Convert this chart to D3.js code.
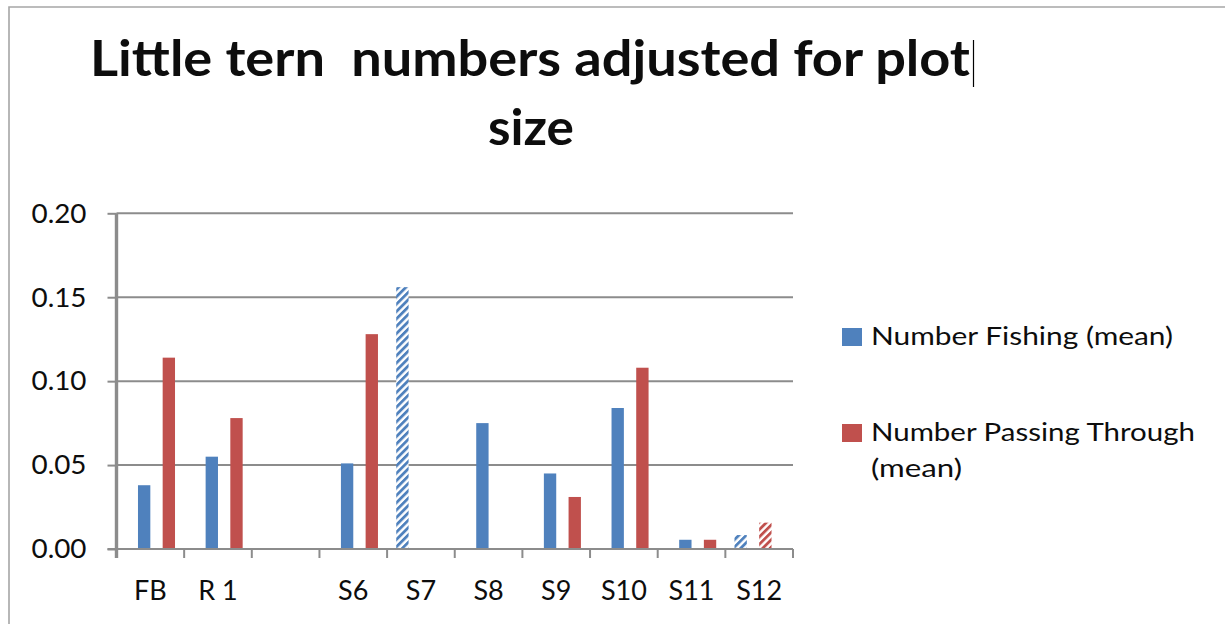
<!DOCTYPE html>
<html>
<head>
<meta charset="utf-8">
<script src="https://cdn.jsdelivr.net/npm/d3@7"></script>
<style>
  html, body { margin: 0; padding: 0; background: #fff; }
  svg { display: block; }
  text { font-family: Lato, "Noto Sans", sans-serif; fill: #0d0d0d; }
</style>
</head>
<body>
<svg id="chart" width="1225" height="624"></svg>
<script>
// Sites along the x axis (one unnamed gap between R 1 and S6)
const categories = ["FB", "R 1", "", "S6", "S7", "S8", "S9", "S10", "S11", "S12"];

// Mean little tern numbers per site, adjusted for plot size
const fishing        = [0.038, 0.055, null, 0.051, null, 0.075, 0.045, 0.084, 0.0055, null];
const passing        = [0.114, 0.078, null, 0.128, null, null, 0.031, 0.108, 0.0055, null];
const fishingHatched = [null, null, null, null, 0.156, null, null, null, null, 0.0083];
const passingHatched = [null, null, null, null, null, null, null, null, null, 0.0157];

const yTicks = [0, 0.05, 0.10, 0.15, 0.20];
const titleLines = ["Little tern  numbers adjusted for plot", "size"];
const legendItems = [
  { lines: ["Number Fishing (mean)"], color: "#4F81BD" },
  { lines: ["Number Passing Through", "(mean)"], color: "#C0504D" }
];

const BLUE = "#4F81BD", RED = "#C0504D";
const series = [
  { key: "fishingHatched", values: fishingHatched, color: BLUE, hatched: true },
  { key: "fishing",        values: fishing,        color: BLUE, hatched: false },
  { key: "passingHatched", values: passingHatched, color: RED,  hatched: true },
  { key: "passing",        values: passing,        color: RED,  hatched: false }
];

const svg = d3.select("#chart");

// hatch patterns for the hatched series
const defs = svg.append("defs");
[["hatch-blue", BLUE], ["hatch-red", RED]].forEach(([id, c]) => {
  const p = defs.append("pattern")
    .attr("id", id)
    .attr("patternUnits", "userSpaceOnUse")
    .attr("width", 5.2).attr("height", 5.2)
    .attr("patternTransform", "rotate(45)");
  p.append("rect").attr("width", 5.2).attr("height", 5.2).attr("fill", "#fff");
  p.append("rect").attr("width", 2.8).attr("height", 5.2).attr("fill", c);
});

// outer chart frame (top and left edges)
svg.append("path")
  .attr("d", "M9,624 V7 H1225")
  .attr("fill", "none")
  .attr("stroke", "#a6a6a6")
  .attr("stroke-width", 1.6);

// plot area
const plotLeft = 116.5, plotRight = 793, plotTop = 213.3, plotBottom = 549;

const x0 = d3.scaleBand().domain(categories).range([plotLeft, plotRight]).paddingInner(0).paddingOuter(0);
const x1 = d3.scaleBand().domain(series.map(s => s.key)).range([0, x0.bandwidth()])
  .paddingInner(0).paddingOuter(0.74);
const y = d3.scaleLinear().domain([0, 0.2]).range([plotBottom, plotTop]);

// gridlines
svg.append("g").selectAll("line").data(yTicks.filter(d => d > 0)).join("line")
  .attr("x1", plotLeft).attr("x2", plotRight)
  .attr("y1", d => y(d)).attr("y2", d => y(d))
  .attr("stroke", "#8c8c8c").attr("stroke-width", 2);

// y axis labels and ticks
const yAxis = svg.append("g")
  .attr("transform", `translate(${plotLeft},0)`)
  .call(d3.axisLeft(y).tickValues(yTicks).tickFormat(d3.format(".2f")).tickSize(9).tickPadding(21));
yAxis.select(".domain").remove();
yAxis.selectAll(".tick line").attr("stroke", "#8c8c8c").attr("stroke-width", 2);
yAxis.selectAll(".tick text")
  .attr("font-size", 27.5).attr("fill", "#0d0d0d")
  .attr("textLength", 55).attr("lengthAdjust", "spacingAndGlyphs")
  .style("font-family", "Lato, 'Noto Sans', sans-serif");

// bars
const groups = svg.append("g").selectAll("g").data(series).join("g");
groups.selectAll("rect")
  .data(s => categories.map((c, i) => ({ c, v: s.values[i], s })).filter(d => d.v != null))
  .join("rect")
  .attr("x", d => x0(d.c) + x1(d.s.key))
  .attr("width", x1.bandwidth())
  .attr("y", d => y(d.v))
  .attr("height", d => y(0) - y(d.v))
  .attr("fill", d => d.s.hatched ? (d.s.color === BLUE ? "url(#hatch-blue)" : "url(#hatch-red)") : d.s.color);

// x axis line and category boundary ticks
svg.append("line")
  .attr("x1", plotLeft - 9).attr("x2", plotRight)
  .attr("y1", plotBottom).attr("y2", plotBottom)
  .attr("stroke", "#8c8c8c").attr("stroke-width", 2.2);
const bounds = categories.map(c => x0(c)).concat([plotRight]);
svg.append("g").selectAll("line").data(bounds).join("line")
  .attr("x1", d => d).attr("x2", d => d)
  .attr("y1", plotBottom).attr("y2", plotBottom + 9)
  .attr("stroke", "#8c8c8c").attr("stroke-width", 2);

// y axis line
svg.append("line")
  .attr("x1", plotLeft).attr("x2", plotLeft)
  .attr("y1", plotTop).attr("y2", plotBottom + 9)
  .attr("stroke", "#8c8c8c").attr("stroke-width", 3.4);

// x category labels
const xAxis = svg.append("g")
  .attr("transform", `translate(0,${plotBottom})`)
  .call(d3.axisBottom(x0).tickSize(0).tickPadding(0));
xAxis.select(".domain").remove();
xAxis.selectAll(".tick text")
  .attr("y", 51).attr("dy", 0)
  .attr("font-size", 27).attr("fill", "#0d0d0d")
  .style("font-family", "Lato, 'Noto Sans', sans-serif");

// title
svg.append("text")
  .attr("x", 90).attr("y", 76)
  .attr("font-size", 49).attr("font-weight", 700).attr("fill", "#000")
  .attr("textLength", 880).attr("lengthAdjust", "spacingAndGlyphs")
  .style("white-space", "pre")
  .text(titleLines[0]);
svg.append("text")
  .attr("x", 488).attr("y", 145)
  .attr("font-size", 49).attr("font-weight", 700).attr("fill", "#000")
  .attr("textLength", 86).attr("lengthAdjust", "spacingAndGlyphs")
  .text(titleLines[1]);
// text cursor after the first title line
svg.append("line")
  .attr("x1", 973.5).attr("x2", 973.5).attr("y1", 40).attr("y2", 87)
  .attr("stroke", "#000").attr("stroke-width", 1.2);

// legend
const legendWidths = [[302], [324, 91]];
const legendTop = [328, 424];
legendItems.forEach((item, i) => {
  const g = svg.append("g");
  g.append("rect")
    .attr("x", 842).attr("y", legendTop[i])
    .attr("width", 20).attr("height", 18)
    .attr("fill", item.color);
  item.lines.forEach((ln, j) => {
    g.append("text")
      .attr("x", 871).attr("y", legendTop[i] + 17 + j * 36)
      .attr("font-size", 24.5)
      .attr("textLength", legendWidths[i][j]).attr("lengthAdjust", "spacingAndGlyphs")
      .text(ln);
  });
});
</script>
</body>
</html>
